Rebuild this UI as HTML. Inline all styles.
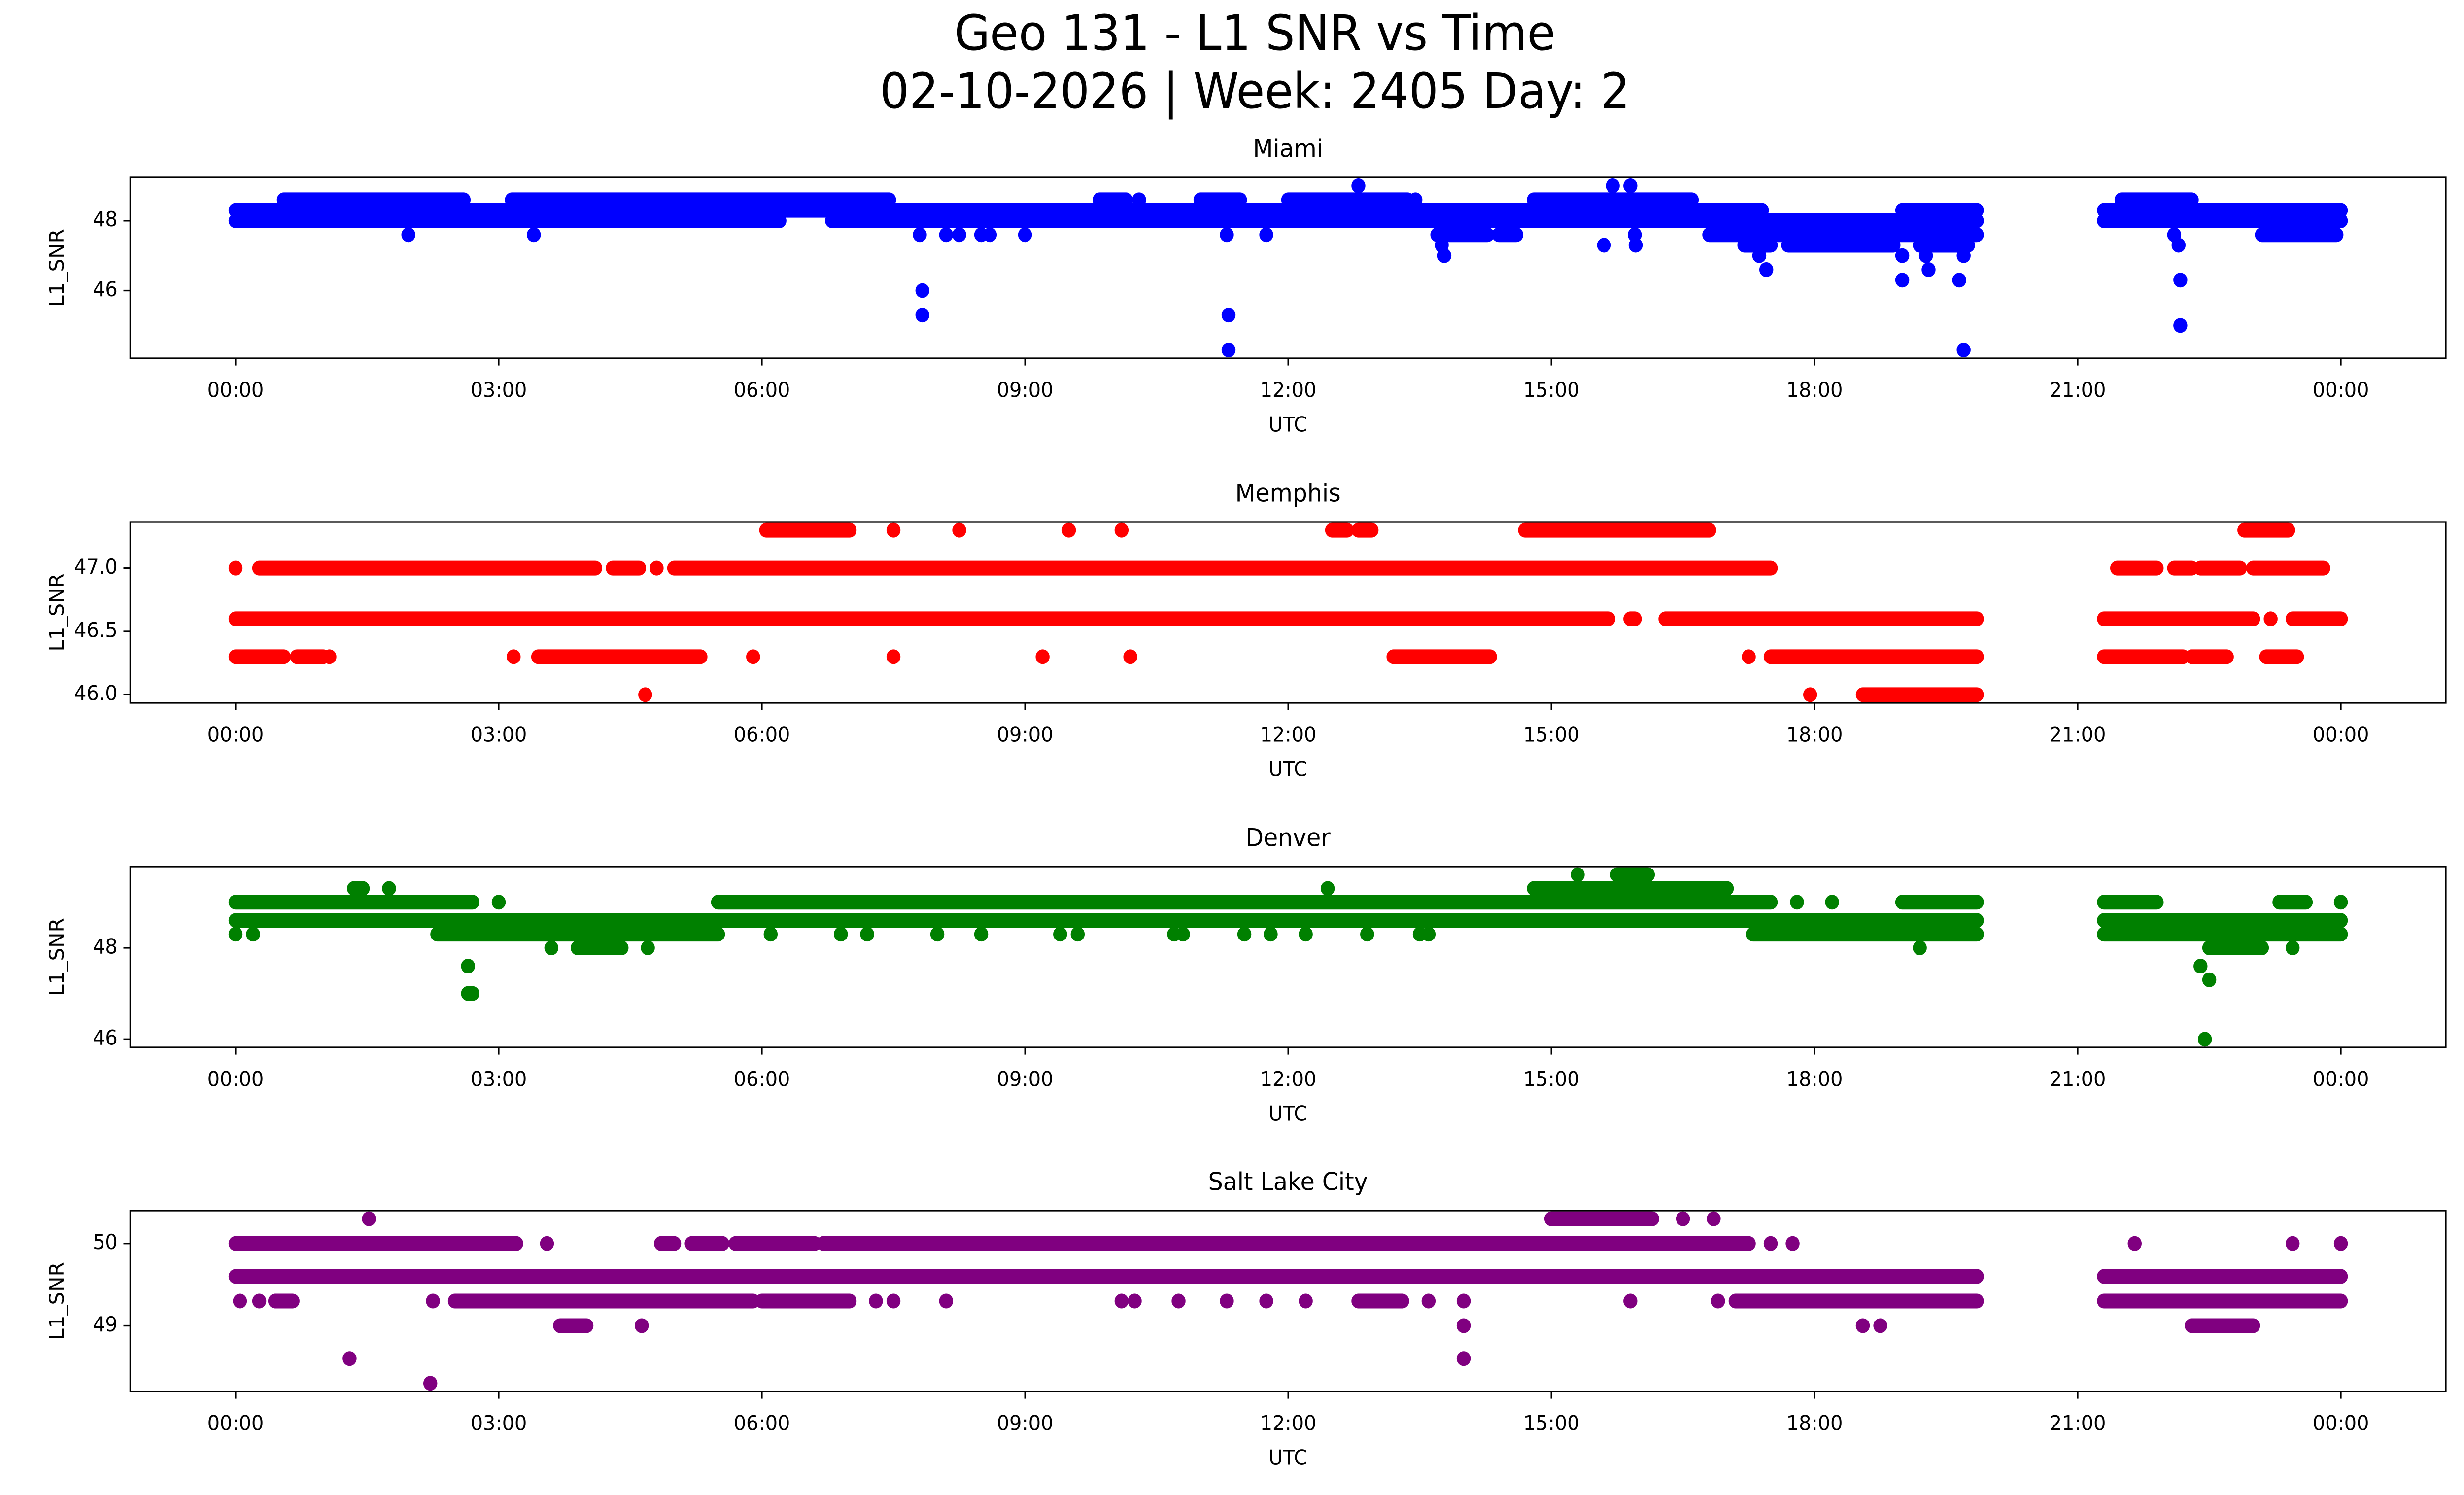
<!DOCTYPE html>
<html><head><meta charset="utf-8"><style>
html,body{margin:0;padding:0;background:#fff;width:100vw;height:100vh;overflow:hidden}
svg{display:block;width:100vw;height:100vh;font-family:"DejaVu Sans","Liberation Sans",sans-serif}
</style></head><body>
<svg id="fig" viewBox="0 0 5278 3033" preserveAspectRatio="none" xmlns="http://www.w3.org/2000/svg">
<rect x="0" y="0" width="5278" height="3033" fill="#fff"/>
<text x="2688" y="74" font-size="99" text-anchor="middle" dominant-baseline="middle">Geo 131 - L1 SNR vs Time</text>
<text x="2688" y="192" font-size="99" text-anchor="middle" dominant-baseline="middle">02-10-2026 | Week: 2405 Day: 2</text>
<g id="panels"></g>
</svg>
<script>
// ---- data (hours UTC, L1 SNR) ----
const xTickLabels = ["00:00","03:00","06:00","09:00","12:00","15:00","18:00","21:00","00:00"];
const xTickHours = [0,3,6,9,12,15,18,21,24];
const stationNames = ["Miami","Memphis","Denver","Salt Lake City"];
const stationColors = ["#0000ff","#ff0000","#008000","#800080"];
const yTicksMiami = [46,48];
const yTicksMemphis = [46.0,46.5,47.0];
const yTicksDenver = [46,48];
const yTicksSLC = [49,50];
// runs: [level, startHour, endHour]   points: [hour, level]
const miamiRuns = [[48.0,0,6.2],[48.0,6.8,19.85],[48.0,21.3,24],[48.3,0,17.4],[48.3,19.0,19.85],[48.3,21.3,24],
 [48.6,0.55,2.6],[48.6,3.15,7.45],[48.6,9.85,10.15],[48.6,11.0,11.45],[48.6,12.0,13.36],[48.6,14.8,16.6],[48.6,21.5,22.3],
 [47.6,13.7,14.27],[47.6,14.4,14.6],[47.6,16.8,19.85],[47.6,23.1,23.95],[47.3,17.2,17.5],[47.3,17.7,18.9],[47.3,19.2,19.75]];
const miamiPoints = [[10.3,48.6],[13.45,48.6],[12.8,49.0],[15.7,49.0],[15.9,49.0],[1.97,47.6],[3.4,47.6],[7.8,47.6],[8.1,47.6],[8.25,47.6],
 [8.5,47.6],[8.6,47.6],[9.0,47.6],[11.3,47.6],[11.75,47.6],[15.95,47.6],[22.1,47.6],[13.75,47.3],[15.6,47.3],[15.96,47.3],[22.15,47.3],
 [13.78,47.0],[17.37,47.0],[19.0,47.0],[19.27,47.0],[19.7,47.0],[17.45,46.6],[19.3,46.6],[19.0,46.3],[19.65,46.3],[22.17,46.3],
 [22.17,45.0],[19.7,44.3],[7.83,46.0],[7.83,45.3],[11.32,45.3],[11.32,44.3]];
const memphisRuns = [[46.6,0,15.65],[46.6,15.9,15.95],[46.6,16.3,19.85],[46.6,21.3,23.0],[46.6,23.45,24],
 [47.0,0.27,4.1],[47.0,4.3,4.6],[47.0,5.0,17.5],[47.0,21.45,21.9],[47.0,22.1,22.3],[47.0,22.4,22.85],[47.0,23.0,23.8],
 [47.3,6.05,7.0],[47.3,12.5,12.67],[47.3,12.8,12.95],[47.3,14.7,16.8],[47.3,22.9,23.4],
 [46.3,0,0.55],[46.3,0.7,1.0],[46.3,3.45,5.3],[46.3,13.2,14.3],[46.3,17.5,19.85],[46.3,21.3,22.2],[46.3,22.3,22.7],[46.3,23.15,23.5],
 [46.0,18.55,19.85]];
const memphisPoints = [[0,47.0],[4.8,47.0],[23.2,46.6],[7.5,47.3],[8.25,47.3],[9.5,47.3],[10.1,47.3],[1.07,46.3],[3.17,46.3],[5.9,46.3],
 [7.5,46.3],[9.2,46.3],[10.2,46.3],[17.25,46.3],[4.67,46.0],[17.95,46.0]];
const denverRuns = [[48.6,0,19.85],[48.6,21.3,24],[49.0,0,2.7],[49.0,5.5,17.5],[49.0,19.0,19.85],[49.0,21.3,21.9],[49.0,23.3,23.6],
 [48.3,2.3,5.5],[48.3,17.3,19.85],[48.3,21.3,24],[48.0,3.9,4.4],[48.0,22.5,23.1],[49.3,1.35,1.45],[49.3,14.8,17.0],[49.6,15.75,16.1],[47.0,2.65,2.7]];
const denverPoints = [[24,49.0],[17.8,49.0],[18.2,49.0],[0,48.3],[0.2,48.3],[6.1,48.3],[6.9,48.3],[7.2,48.3],[8.0,48.3],[8.5,48.3],[9.4,48.3],
 [9.6,48.3],[10.7,48.3],[10.8,48.3],[11.5,48.3],[11.8,48.3],[12.2,48.3],[12.9,48.3],[13.5,48.3],[13.6,48.3],[3.6,48.0],[4.7,48.0],[19.2,48.0],
 [23.45,48.0],[1.75,49.3],[12.45,49.3],[15.3,49.6],[2.65,47.6],[22.4,47.6],[22.5,47.3],[22.45,46.0],[3.0,49.0]];
const slcRuns = [[49.6,0,19.85],[49.6,21.3,24],[50.0,0,3.2],[50.0,4.85,5.0],[50.0,5.2,5.55],[50.0,5.7,6.6],[50.0,6.7,17.25],
 [49.3,0.45,0.65],[49.3,2.5,5.9],[49.3,6.0,7.0],[49.3,12.8,13.3],[49.3,17.1,19.85],[49.3,21.3,24],[49.0,3.7,4.0],[49.0,22.3,23.0],
 [50.3,15.0,16.15]];
const slcPoints = [[3.55,50.0],[17.5,50.0],[17.75,50.0],[21.65,50.0],[23.45,50.0],[24,50.0],[0.05,49.3],[0.27,49.3],[2.25,49.3],[7.3,49.3],
 [7.5,49.3],[8.1,49.3],[10.1,49.3],[10.25,49.3],[10.75,49.3],[11.3,49.3],[11.75,49.3],[12.2,49.3],[13.6,49.3],[14.0,49.3],[15.9,49.3],[16.9,49.3],
 [4.63,49.0],[14.0,49.0],[18.55,49.0],[18.75,49.0],[1.52,50.3],[16.5,50.3],[16.85,50.3],[1.3,48.6],[14.0,48.6],[2.22,48.3]];
const yLimits = [[44.06,49.24],[45.935,47.365],[45.82,49.78],[48.2,50.4]];

// ---- drawing ----
const NS="http://www.w3.org/2000/svg";
const g=document.getElementById("panels");
const L=279, R=5239, PH=367, TOPS=[360,1059,1758,2456];
const xScale=h=>504.6+h*187.9;
const allRuns=[miamiRuns,memphisRuns,denverRuns,slcRuns];
const allPoints=[miamiPoints,memphisPoints,denverPoints,slcPoints];
const allTicks=[yTicksMiami,yTicksMemphis,yTicksDenver,yTicksSLC];
const keys=["miami","memphis","denver","salt-lake-city"];
function el(tag,attrs,parent){const e=document.createElementNS(NS,tag);for(const k in attrs)e.setAttribute(k,attrs[k]);parent.appendChild(e);return e;}
for(let p=0;p<4;p++){
  const top=TOPS[p], bot=top+PH, [y0,y1]=yLimits[p];
  const yScale=v=>bot-(v-y0)/(y1-y0)*PH;
  const pg=el("g",{},g);
  
  
  const col=stationColors[p];
  const series=el("g",{},pg);
  
  
  allRuns[p].forEach(r=>{
    const ln=el("line",{x1:xScale(r[1]),x2:xScale(r[2]),y1:yScale(r[0]),y2:yScale(r[0]),stroke:col,"stroke-width":30,"stroke-linecap":"round"},series);
    
    
  });
  allPoints[p].forEach(pt=>{
    const c=el("circle",{cx:xScale(pt[0]),cy:yScale(pt[1]),r:15,fill:col},series);
    
    
  });
  const frame=el("rect",{x:L,y:top,width:R-L,height:PH,fill:"none",stroke:"#000","stroke-width":3.3},pg);
  
  
  xTickHours.forEach((h,i)=>{
    const x=xScale(h);
    const t=el("line",{x1:x,x2:x,y1:bot,y2:bot+14.6,stroke:"#000","stroke-width":3.3},pg);
    
    
    const tl=el("text",{x:x,y:bot+67,"font-size":42,"text-anchor":"middle","dominant-baseline":"middle"},pg);
    tl.textContent=xTickLabels[i];
    
    
  });
  allTicks[p].forEach(v=>{
    const y=yScale(v);
    const t=el("line",{x1:L-14.6,x2:L,y1:y,y2:y,stroke:"#000","stroke-width":3.3},pg);
    
    
    const tl=el("text",{x:L-27,y:y,"font-size":42,"text-anchor":"end","dominant-baseline":"middle"},pg);
    tl.textContent=(p===1)?v.toFixed(1):String(v);
    
    
  });
  const xl=el("text",{x:(L+R)/2,y:bot+137,"font-size":42,"text-anchor":"middle","dominant-baseline":"middle"},pg);
  xl.textContent="UTC";
  
  
  const yc=top+PH/2;
  const yl=el("text",{x:0,y:0,"font-size":42,"text-anchor":"middle","dominant-baseline":"middle",transform:`translate(125 ${yc}) rotate(-90)`},pg);
  yl.textContent="L1_SNR";
  
  
  const tt=el("text",{x:(L+R)/2,y:top-55,"font-size":50,"text-anchor":"middle","dominant-baseline":"middle"},pg);
  tt.textContent=stationNames[p];
  
  
}
</script>
</body></html>
